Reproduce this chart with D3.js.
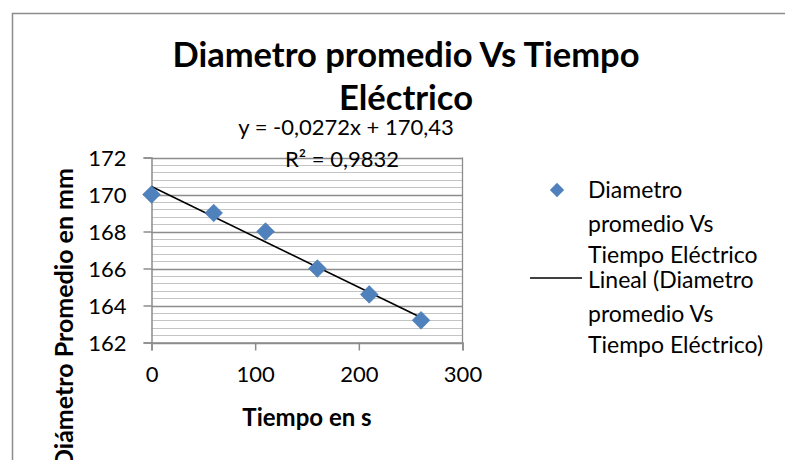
<!DOCTYPE html>
<html>
<head>
<meta charset="utf-8">
<script src="https://cdn.jsdelivr.net/npm/d3@7/dist/d3.min.js"></script>
<style>
  html, body { margin: 0; padding: 0; background: #fff; }
  svg { display: block; font-family: Lato, "Open Sans", sans-serif; }
</style>
</head>
<body>
<svg id="chart" width="785" height="460"></svg>
<script>
// Measured diameter over time
const tiempo = [0, 60, 110, 160, 210, 260];
const diametro = [170, 169, 168, 166, 164.6, 163.2];

const xTicks = [0, 100, 200, 300];
const yTicks = [162, 164, 166, 168, 170, 172];

const titleLines = ["Diametro promedio Vs Tiempo", "Eléctrico"];
const xTitle = "Tiempo en  s";
const yTitle = "Diámetro Promedio en mm";
const legendSeries = ["Diametro", "promedio Vs", "Tiempo Eléctrico"];
const legendTrend = ["Lineal (Diametro", "promedio Vs", "Tiempo Eléctrico)"];

// Least-squares fit of the series
const mx = d3.mean(tiempo), my = d3.mean(diametro);
const sxy = d3.sum(tiempo, (t, i) => (t - mx) * (diametro[i] - my));
const sxx = d3.sum(tiempo, t => (t - mx) ** 2);
const slope = sxy / sxx;
const intercept = my - slope * mx;
const ssTot = d3.sum(diametro, v => (v - my) ** 2);
const ssRes = d3.sum(tiempo, (t, i) => (diametro[i] - (intercept + slope * t)) ** 2);
const r2 = 1 - ssRes / ssTot;
const fmt = (v, d) => v.toFixed(d).replace(".", ",");

const svg = d3.select("#chart");

// outer chart frame
svg.append("rect")
  .attr("x", 12.5).attr("y", 13.5)
  .attr("width", 900).attr("height", 600)
  .attr("fill", "#fff").attr("stroke", "#8c8c8c").attr("stroke-width", 1.5);

const plot = { left: 151.5, right: 462.5, top: 157.5, bottom: 342.5 };
const x = d3.scaleLinear().domain([0, 300]).range([plot.left, plot.right]);
const y = d3.scaleLinear().domain([162, 172]).range([plot.bottom, plot.top]);

// minor gridlines every 0.4
const minor = d3.range(162, 172.001, 0.4);
svg.append("g").selectAll("line").data(minor).join("line")
  .attr("x1", plot.left).attr("x2", plot.right)
  .attr("y1", d => Math.round(y(d)) + 0.5).attr("y2", d => Math.round(y(d)) + 0.5)
  .attr("stroke", "#c4c4c4").attr("stroke-width", 1.2);

// major gridlines
svg.append("g").selectAll("line").data(yTicks).join("line")
  .attr("x1", plot.left).attr("x2", plot.right)
  .attr("y1", d => Math.round(y(d)) + 0.5).attr("y2", d => Math.round(y(d)) + 0.5)
  .attr("stroke", "#8c8c8c").attr("stroke-width", 1.3);

// right edge of plot area
svg.append("line")
  .attr("x1", plot.right).attr("x2", plot.right)
  .attr("y1", plot.top).attr("y2", plot.bottom)
  .attr("stroke", "#8c8c8c").attr("stroke-width", 1.3);

// axes
const xAxis = svg.append("g")
  .attr("transform", `translate(0,${plot.bottom})`)
  .call(d3.axisBottom(x).tickValues(xTicks).tickSize(8).tickPadding(16).tickFormat(d3.format("d")));
const yAxis = svg.append("g")
  .attr("transform", `translate(${plot.left},0)`)
  .call(d3.axisLeft(y).tickValues(yTicks).tickSize(8).tickPadding(17).tickFormat(d3.format("d")));
[xAxis, yAxis].forEach(g => {
  g.select(".domain").attr("stroke", "#8c8c8c").attr("stroke-width", 1.5);
  g.selectAll(".tick line").attr("stroke", "#8c8c8c").attr("stroke-width", 1.5);
  g.selectAll(".tick text").attr("fill", "#000")
    .style("font-family", "Lato, sans-serif").style("font-size", "22px");
});
yAxis.selectAll(".tick text").attr("dy", "0.36em");

// trend line
svg.append("line")
  .attr("x1", x(0)).attr("y1", y(intercept))
  .attr("x2", x(260)).attr("y2", y(intercept + slope * 260))
  .attr("stroke", "#000").attr("stroke-width", 1.6);

// diamond markers
const diamond = d3.symbol().type(d3.symbolDiamond2).size(200);
svg.append("g").selectAll("path").data(tiempo).join("path")
  .attr("d", diamond)
  .attr("transform", (t, i) => `translate(${x(t)},${y(diametro[i])})`)
  .attr("fill", "#4f81bd").attr("stroke", "#4575b0").attr("stroke-width", 0.6);

// title
svg.append("g").selectAll("text").data(titleLines).join("text")
  .attr("x", 406).attr("y", (d, i) => 67 + i * 43)
  .attr("text-anchor", "middle")
  .style("font-weight", "bold").style("font-size", "34.5px")
  .text(d => d);

// equation and R²
svg.append("text")
  .attr("x", 346).attr("y", 135).attr("text-anchor", "middle")
  .style("font-size", "22px")
  .text(`y = ${fmt(slope, 4)}x + ${fmt(intercept, 2)}`);
svg.append("text")
  .attr("x", 342).attr("y", 167).attr("text-anchor", "middle")
  .style("font-size", "22px")
  .text(`R² = ${fmt(r2, 4)}`);

// axis titles
svg.append("text")
  .attr("x", 307).attr("y", 426).attr("text-anchor", "middle")
  .style("font-weight", "bold").style("font-size", "24px")
  .text(xTitle);
svg.append("text")
  .attr("transform", "translate(73,168) rotate(-90)")
  .attr("text-anchor", "end")
  .style("font-weight", "bold").style("font-size", "25px")
  .text(yTitle);

// legend
const leg = svg.append("g");
leg.append("path").attr("d", d3.symbol().type(d3.symbolDiamond2).size(130))
  .attr("transform", "translate(557,190)").attr("fill", "#4f81bd");
leg.append("g").selectAll("text").data(legendSeries).join("text")
  .attr("x", 588).attr("y", (d, i) => [198, 232, 263][i])
  .style("font-size", "23px").text(d => d);
leg.append("line").attr("x1", 530).attr("x2", 582).attr("y1", 278).attr("y2", 278)
  .attr("stroke", "#000").attr("stroke-width", 1.6);
leg.append("g").selectAll("text").data(legendTrend).join("text")
  .attr("x", 588).attr("y", (d, i) => [288, 322, 353][i])
  .style("font-size", "23px").text(d => d);
</script>
</body>
</html>
